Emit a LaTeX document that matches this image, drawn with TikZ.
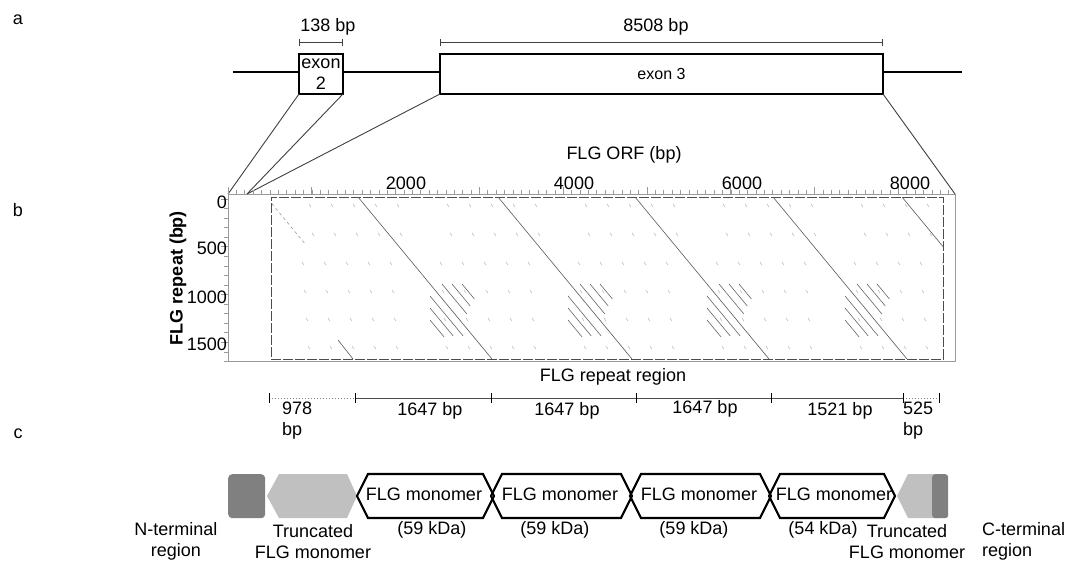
\documentclass[tikz,border=0pt]{standalone}
\usepackage{fontspec}
\setmainfont{Liberation Sans}
\usepackage{xcolor}
\definecolor{flgdark}{HTML}{808080}
\definecolor{flglight}{HTML}{C0C0C0}
\definecolor{axisgray}{HTML}{9A9A9A}
\usepackage{tikz}
\usetikzlibrary{arrows.meta, positioning, calc}

\newcommand{\lblfont}{\fontsize{18}{21}\selectfont}

\tikzset{
  lbl/.style={font=\lblfont, inner sep=0pt, outer sep=0pt},
  exonbox/.style={draw=black, line width=1.2pt, fill=white, inner sep=0pt, outer sep=0pt, anchor=north west, align=center},
  zoomline/.style={black!75, line width=0.9pt},
  diag/.style={black!65, line width=0.6pt},
  hatch/.style={black!60, line width=0.6pt},
  speck/.style={black!30, line width=0.5pt},
  brk/.style={black!75, line width=1pt},
  monomer/.style={black, line width=2.2pt, line join=miter},
}

\begin{document}
\begin{tikzpicture}[x=1pt, y=-1pt]
\fill[white] (0,0) rectangle (1084,567);
\useasboundingbox (0,0) rectangle (1084,567);

% Panel letters
\node[lbl] (pa) at (18,20) {a};
\node[lbl] (pb) at (18,210) {b};
\node[lbl] (pc) at (18,434) {c};

% a: gene structure
\coordinate (genel) at (233,72);
\coordinate (gener) at (962,72);
\draw[line width=2pt] (genel) -- (gener);
\node[exonbox, minimum width=44pt, minimum height=40pt, font=\lblfont] (exontwo) at (299,54) {exon\\2};
\node[exonbox, minimum width=443pt, minimum height=40pt, font=\fontsize{16}{19}\selectfont] (exonthree) at (440,54) {exon 3};

% Exon lengths
\coordinate (b2l) at (299,43);
\coordinate (b2r) at (343,43);
\coordinate (b3l) at (440,43);
\coordinate (b3r) at (883,43);
\draw[brk, {Bar[width=7pt]}-{Bar[width=7pt]}] (b2l) -- (b2r);
\draw[brk, {Bar[width=7pt]}-{Bar[width=7pt]}] (b3l) -- (b3r);
\node[lbl] (len2) at (328,27) {138 bp};
\node[lbl] (len3) at (656,27) {8508 bp};

% b: dot plot
\node[draw=axisgray, line width=1pt, minimum width=727pt, minimum height=167pt, anchor=north west, inner sep=0pt, outer sep=0pt] (plot) at (228,194) {};
\coordinate (orfstart) at (247,194);
\draw[zoomline] (exontwo.south west) -- (plot.north west);
\draw[zoomline] (exontwo.south east) -- (orfstart);
\draw[zoomline] (exonthree.south west) -- (orfstart);
\draw[zoomline] (exonthree.south east) -- (plot.north east);

% Axis ticks
\foreach \i in {0,...,86}
  \draw[axisgray, line width=0.6pt] ({228+\i*8.38},194) -- ({228+\i*8.38},190);
\foreach \i in {0,...,8}
  \draw[axisgray, line width=0.8pt] ({228+\i*83.8},194) -- ({228+\i*83.8},187);
\foreach \i in {0,...,17}
  \draw[axisgray, line width=0.6pt] (228,{199+\i*9.55}) -- (224,{199+\i*9.55});
\foreach \i in {0,...,3}
  \draw[axisgray, line width=0.8pt] (228,{199+\i*47.75}) -- (221,{199+\i*47.75});

% Axis labels
\foreach \v/\x in {2000/406, 4000/574, 6000/742, 8000/910}
  \node[lbl] (xl\v) at (\x,183) {\v};
\foreach \v/\y in {0/202, 500/248, 1000/297, 1500/344}
  \node[lbl, anchor=east] (yl\v) at (227,\y) {\v};
\node[lbl] (xtitle) at (624,155) {FLG ORF (bp)};
\node[lbl, font=\bfseries\lblfont, rotate=90] (ytitle) at (178,278) {FLG repeat (bp)};

% Repeat area
\node[draw=black!70, line width=0.8pt, dash pattern=on 10pt off 2pt, minimum width=672pt, minimum height=162pt, anchor=north west, inner sep=0pt, outer sep=0pt] (rptbox) at (271,197) {};
\begin{scope}
\clip (271,197) rectangle (943,359);
\foreach \s in {358,498,635,773,902}
  \draw[diag] (\s,197) -- ++(134,162);
\draw[diag] (338,340) -- (353,359);
\draw[speck, black!45, dashed] (268,199) -- ++(38,46);
% hatched clusters
\foreach \c in {430,568,707,845}
  \foreach \dx/\dy/\len in {12/284/30, 22/284/22, 32/284/15, 0/296/40, 0/308/28, 0/320/17}
    \draw[hatch] ({\c+\dx},\dy) -- ++({0.83*\len},\len);
% faint specks
\foreach \r in {0,...,4}
  \foreach \py in {204,233,262,290,318,346}
    \foreach \k in {0,...,4}
      \draw[speck] ({300+\r*138+\k*22+mod(\py,13)},\py) -- ++(2,3);
\end{scope}

% Repeat region lengths
\node[lbl] (rgn) at (613,377) {FLG repeat region};
\coordinate (r0) at (269,398);
\coordinate (r1) at (355,398);
\coordinate (r2) at (491,398);
\coordinate (r3) at (636,398);
\coordinate (r4) at (771,398);
\coordinate (r5) at (903,398);
\coordinate (r6) at (939,398);
\draw[black!50, line width=1pt, dotted] (r0) -- (r1);
\draw[black!70, line width=1pt] (r1) -- (r5);
\draw[black!50, line width=1pt, dotted] (r5) -- (r6);
\foreach \p in {r0,r1,r2,r3,r4,r5,r6}
  \draw[black, line width=1pt] ([yshift=-5pt]\p) -- ([yshift=5pt]\p);
\node[lbl, align=left, anchor=north west] (s978) at (282,402) {978\\bp};
\node[lbl] (s1) at (430,411) {1647 bp};
\node[lbl] (s2) at (567,411) {1647 bp};
\node[lbl] (s3) at (705,409) {1647 bp};
\node[lbl] (s4) at (840,411) {1521 bp};
\node[lbl, align=left, anchor=north west] (s525) at (903,402) {525\\bp};

% c: protein domains
\node[fill=flgdark, rounded corners=4pt, minimum width=37pt, minimum height=44pt, anchor=north west, inner sep=0pt] (nterm) at (228,474) {};
\fill[flglight] (267,496) -- (279,474) -- (347,474) -- (357,496) -- (347,518) -- (279,518) -- cycle;
\fill[flglight] (897,496) -- (908,474) -- (940,474) -- (940,518) -- (908,518) -- cycle;
\node[fill=flgdark, rounded corners=3pt, minimum width=16pt, minimum height=44pt, anchor=north west, inner sep=0pt] (cterm) at (932,474) {};
\foreach \a/\b in {368/483, 502/621, 641/760, 780/884}
  \fill[white] ({\a-11},496) -- (\a,474) -- (\b,474) -- ({\b+11},496) -- (\b,518) -- (\a,518) -- cycle;
\node[lbl] (m1) at (424,494) {FLG monomer};
\node[lbl] (m2) at (560,494) {FLG monomer};
\node[lbl] (m3) at (699,494) {FLG monomer};
\node[lbl] (m4) at (834,494) {FLG monomer};
\foreach \a/\b in {368/483, 502/621, 641/760, 780/884}
  \draw[monomer] ({\a-11},496) -- (\a,474) -- (\b,474) -- ({\b+11},496) -- (\b,518) -- (\a,518) -- cycle;
\node[lbl] (k1) at (432,530) {(59 kDa)};
\node[lbl] (k2) at (555,530) {(59 kDa)};
\node[lbl] (k3) at (694,530) {(59 kDa)};
\node[lbl] (k4) at (823,530) {(54 kDa)};

% Domain names
\node[lbl, align=center] (nlbl) at (176,541) {N-terminal\\region};
\node[lbl, align=center] (tlbl) at (313,542) {Truncated\\FLG monomer};
\node[lbl, align=center] (trlbl) at (907,542) {Truncated\\FLG monomer};
\node[lbl, align=left, anchor=west] (clbl) at (982,541) {C-terminal\\region};
\end{tikzpicture}
\end{document}
